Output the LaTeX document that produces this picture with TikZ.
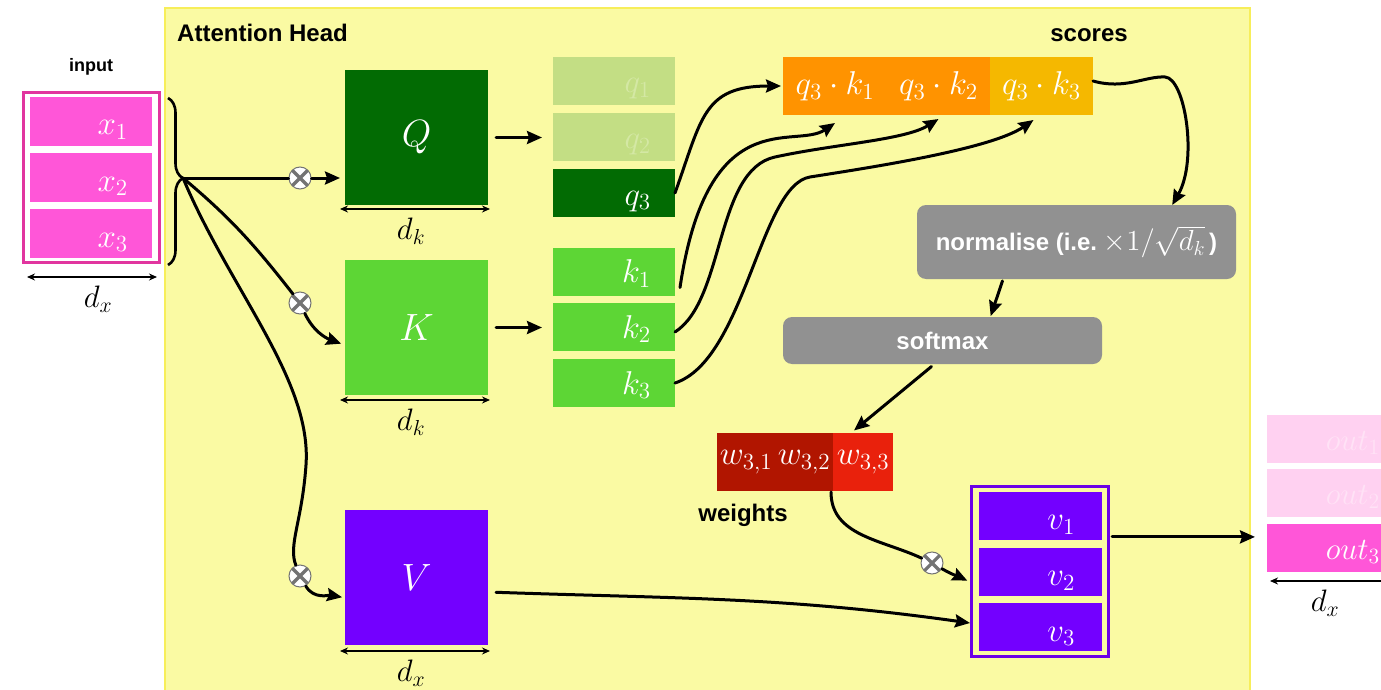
\documentclass[tikz,border=0pt]{standalone}
\usepackage{fontspec}
\setsansfont{Liberation Sans}
\usetikzlibrary{arrows.meta,calc,decorations.pathreplacing}
% scalable Computer Modern math at any size
\DeclareFontShape{OML}{cmm}{m}{it}{<->cmmi12}{}
\DeclareFontShape{OMS}{cmsy}{m}{n}{<->cmsy10}{}
\DeclareFontShape{OT1}{cmr}{m}{n}{<->cmr12}{}
\DeclareFontShape{OMX}{cmex}{m}{n}{<->cmex10}{}

\definecolor{headfill}{HTML}{FAFAA3}
\definecolor{headborder}{HTML}{F7EE5A}
\definecolor{inpink}{HTML}{FF56D8}
\definecolor{inborder}{HTML}{E1359F}
\definecolor{qdark}{HTML}{026B03}
\definecolor{kgreen}{HTML}{5DD635}
\definecolor{qfade}{HTML}{C3DE84}
\definecolor{qfadetxt}{HTML}{D4E8A4}
\definecolor{vpurple}{HTML}{7300FF}
\definecolor{vborder}{HTML}{6B00E6}
\definecolor{scorange}{HTML}{FF9300}
\definecolor{scamber}{HTML}{F5B800}
\definecolor{wdark}{HTML}{B11500}
\definecolor{wred}{HTML}{E9210C}
\definecolor{boxgray}{HTML}{919191}
\definecolor{outfade}{HTML}{FFD1F1}
\definecolor{outfadetxt}{HTML}{FFE2F6}

\begin{document}
\begin{tikzpicture}[x=1pt,y=1pt,
  cellbox/.style={rectangle, inner sep=0pt, outer sep=0pt},
  row/.style={cellbox, minimum width=122pt, minimum height=48pt},
  mlab/.style={text=white, inner sep=0pt, font=\fontsize{33}{36}\selectfont},
  biglab/.style={text=white, font=\fontsize{38}{40}\selectfont},
  dlab/.style={inner sep=0pt, font=\fontsize{31}{34}\selectfont},
  title/.style={inner sep=0pt, font=\sffamily\bfseries\fontsize{24}{28}\selectfont},
  grayb/.style={cellbox, rounded corners=9pt, fill=boxgray, text=white,
    font=\sffamily\bfseries\fontsize{24}{28}\selectfont},
  conn/.style={line width=3pt, line cap=round},
  arr/.style={conn, -{Stealth[length=15pt,width=13pt,inset=2pt]}},
  dim/.style={line width=1.5pt, {Stealth[length=8pt,width=7pt]}-{Stealth[length=8pt,width=7pt]}},
  mult/.style={circle, draw=black!55, line width=1pt, fill=white,
    minimum size=22pt, inner sep=0pt,
    path picture={\draw[line width=3.2pt]
      (path picture bounding box.north west) -- (path picture bounding box.south east)
      (path picture bounding box.north east) -- (path picture bounding box.south west);}}
]
\useasboundingbox (0,0) rectangle (1381,-690);
\fill[white] (0,0) rectangle (1381,-690);

% attention head panel
\draw[draw=headborder, line width=2.5pt, fill=headfill] (165,-8) rectangle (1250,-700);
\node[title, anchor=west] (headt) at (177,-33) {Attention Head};

% input rows
\node[title, font=\sffamily\bfseries\fontsize{18}{22}\selectfont] (inputt) at (91,-67) {input};
\node[cellbox, draw=inborder, line width=3pt, fill=white, minimum width=136pt, minimum height=170pt, outer sep=1.5pt] (inbox) at (91.5,-177.5) {};
\node[cellbox, fill=inpink, minimum width=122pt, minimum height=49pt] (x1) at (91,-121.5) {};
\node[cellbox, fill=inpink, minimum width=122pt, minimum height=49pt] (x2) at (91,-177.5) {};
\node[cellbox, fill=inpink, minimum width=122pt, minimum height=49pt] (x3) at (91,-233.5) {};
\node[mlab, anchor=base east] (x1l) at ($(x1.south east)+(-24,11)$) {$x_1$};
\node[mlab, anchor=base east] (x2l) at ($(x2.south east)+(-24,11)$) {$x_2$};
\node[mlab, anchor=base east] (x3l) at ($(x3.south east)+(-24,11)$) {$x_3$};
\draw[dim] ([xshift=5pt,yshift=-13pt]inbox.south west) -- ([xshift=-4pt,yshift=-13pt]inbox.south east);
\node[dlab] (dxin) at (98,-299) {$d_x$};

% brace gathering the inputs
\draw[line width=2.6pt, decorate, decoration={brace, amplitude=15pt, aspect=0.48}] (168,-98) -- (168,-265);
\coordinate (src) at (183,-178);

% projection matrices
\node[cellbox, fill=qdark, minimum width=143pt, minimum height=135pt] (Q) at (416.5,-137.5) {};
\node[biglab] (Ql) at (Q) {$Q$};
\node[cellbox, fill=kgreen, minimum width=143pt, minimum height=135pt] (K) at (416.5,-327.5) {};
\node[biglab] (Kl) at (K) {$K$};
\node[cellbox, fill=vpurple, minimum width=143pt, minimum height=135pt] (V) at (416.5,-577.5) {};
\node[biglab] (Vl) at (V) {$V$};
\draw[dim] ([xshift=-5pt,yshift=-4pt]Q.south west) -- ([xshift=2pt,yshift=-4pt]Q.south east);
\draw[dim] ([xshift=-5pt,yshift=-5pt]K.south west) -- ([xshift=2pt,yshift=-5pt]K.south east);
\draw[dim] ([xshift=-5pt,yshift=-6pt]V.south west) -- ([xshift=2pt,yshift=-6pt]V.south east);
\node[dlab] (dkq) at (411,-231) {$d_k$};
\node[dlab] (dkk) at (411,-422) {$d_k$};
\node[dlab] (dxv) at (411,-673) {$d_x$};

% multiplications
\node[mult] (m1) at (300,-178) {};
\node[mult] (m2) at (300,-303) {};
\node[mult] (m3) at (300,-576) {};
\node[mult] (m4) at (932,-563) {};

% queries and keys
\node[row, fill=qfade] (q1) at (614,-81) {};
\node[row, fill=qfade] (q2) at (614,-137) {};
\node[row, fill=qdark] (q3) at (614,-193) {};
\node[mlab, text=qfadetxt, anchor=base east] (q1l) at ($(q1.south east)+(-24,12)$) {$q_1$};
\node[mlab, text=qfadetxt, anchor=base east] (q2l) at ($(q2.south east)+(-24,12)$) {$q_2$};
\node[mlab, anchor=base east] (q3l) at ($(q3.south east)+(-24,12)$) {$q_3$};
\node[row, fill=kgreen] (k1) at (614,-271.5) {};
\node[row, fill=kgreen] (k2) at (614,-327) {};
\node[row, fill=kgreen] (k3) at (614,-383) {};
\node[mlab, anchor=base east] (k1l) at ($(k1.south east)+(-24,13)$) {$k_1$};
\node[mlab, anchor=base east] (k2l) at ($(k2.south east)+(-24,13)$) {$k_2$};
\node[mlab, anchor=base east] (k3l) at ($(k3.south east)+(-24,13)$) {$k_3$};

% scores
\node[title] (scorest) at (1089,-35) {scores};
\node[cellbox, fill=scorange, minimum width=104pt, minimum height=58pt, text=white, font=\fontsize{33}{36}\selectfont] (sc1) at (835,-86) {$q_3\cdot k_1$};
\node[cellbox, fill=scorange, minimum width=103pt, minimum height=58pt, text=white, font=\fontsize{33}{36}\selectfont] (sc2) at (938.5,-86) {$q_3\cdot k_2$};
\node[cellbox, fill=scamber, minimum width=103pt, minimum height=58pt, text=white, font=\fontsize{33}{36}\selectfont] (sc3) at (1041.5,-86) {$q_3\cdot k_3$};

% normalisation and softmax
\node[grayb, minimum width=319pt, minimum height=74pt] (norm) at (1076.5,-242) {normalise (i.e.\ {\mdseries\fontsize{29}{30}\selectfont$\times 1/\sqrt{d_k}$}\,)};
\node[grayb, minimum width=319pt, minimum height=47pt] (soft) at (942.5,-340.5) {softmax};

% weights
\node[cellbox, fill=wdark, minimum width=58pt, minimum height=58pt, text=white, font=\fontsize{33}{36}\selectfont] (w31) at (746,-462) {$w_{3,1}$};
\node[cellbox, fill=wdark, minimum width=58pt, minimum height=58pt, text=white, font=\fontsize{33}{36}\selectfont] (w32) at (804,-462) {$w_{3,2}$};
\node[cellbox, fill=wred, minimum width=60pt, minimum height=58pt, text=white, font=\fontsize{33}{36}\selectfont] (w33) at (863,-462) {$w_{3,3}$};
\node[title] (weightst) at (743,-515) {weights};

% values
\node[cellbox, draw=vborder, line width=3pt, minimum width=137pt, minimum height=170pt, outer sep=1.5pt] (vs) at (1040,-571.5) {};
\node[cellbox, fill=vpurple, minimum width=123pt, minimum height=48pt] (v1) at (1040.5,-515.5) {};
\node[cellbox, fill=vpurple, minimum width=123pt, minimum height=48pt] (v2) at (1040.5,-571.5) {};
\node[cellbox, fill=vpurple, minimum width=123pt, minimum height=48pt] (v3) at (1040.5,-627) {};
\node[mlab, anchor=base east] (v1l) at ($(v1.south east)+(-27,10)$) {$v_1$};
\node[mlab, anchor=base east] (v2l) at ($(v2.south east)+(-27,10)$) {$v_2$};
\node[mlab, anchor=base east] (v3l) at ($(v3.south east)+(-27,10)$) {$v_3$};

% outputs
\node[cellbox, fill=outfade, minimum width=133pt, minimum height=48pt] (out1) at (1333.5,-439) {};
\node[cellbox, fill=outfade, minimum width=133pt, minimum height=48pt] (out2) at (1333.5,-493) {};
\node[cellbox, fill=inpink, minimum width=133pt, minimum height=48pt] (out3) at (1333.5,-548) {};
\node[mlab, text=outfadetxt, font=\fontsize{31}{34}\selectfont, anchor=base east] (o1l) at ($(out1.south east)+(-20,13)$) {$out_1$};
\node[mlab, text=outfadetxt, font=\fontsize{31}{34}\selectfont, anchor=base east] (o2l) at ($(out2.south east)+(-20,13)$) {$out_2$};
\node[mlab, font=\fontsize{31}{34}\selectfont, anchor=base east] (o3l) at ($(out3.south east)+(-20,13)$) {$out_3$};
\draw[dim] ([xshift=3pt,yshift=-9pt]out3.south west) -- ([xshift=-3pt,yshift=-9pt]out3.south east);
\node[dlab] (dxout) at (1325,-603) {$d_x$};

% connectors: input to the projections
\draw[conn] (src) -- (m1);
\draw[arr, shorten >=5pt] (m1) -- (m1 -| Q.west);
\draw[conn] (src) to[out=-40,in=128] (m2);
\draw[arr, shorten >=4pt] (m2) to[out=-65,in=160] ($(K.north west)!0.63!(K.south west)$);
\draw[conn] (src) .. controls (230,-290) and (312,-380) .. (306,-465)
                  .. controls (302,-522) and (288,-545) .. (m3);
\draw[arr, shorten >=3pt] (m3) to[out=-60,in=170] ($(V.north west)!0.65!(V.south west)$);

% projections to rows
\draw[arr, shorten <=8pt, shorten >=11pt] (Q.east) -- (Q.east -| q2.west);
\draw[arr, shorten <=8pt, shorten >=11pt] (K.east) -- (K.east -| k2.west);

% dot products
\draw[arr] (q3.east) .. controls (702,-118) and (703,-86) .. ([xshift=-2pt]sc1.west);
\draw[arr] ([xshift=5pt,yshift=8pt]k1.south east) .. controls (708,-100) and (795,-150) .. ([yshift=-8pt]sc1.south);
\draw[arr] ([yshift=-5pt]k2.east) .. controls (725,-300) and (715,-170) .. (775,-157)
           .. controls (835,-144) and (905,-140) .. ([yshift=-4pt]sc2.south);
\draw[arr] (k3.east) .. controls (745,-360) and (760,-185) .. (810,-177)
           .. controls (860,-169) and (990,-150) .. ([xshift=-8pt,yshift=-5pt]sc3.south);

% scores to weights
\draw[arr] ([yshift=5pt]sc3.east) .. controls (1125,-90) and (1145,-76) .. (1165,-77)
           .. controls (1185,-78) and (1198,-160) .. ($(norm.north west)!0.8!(norm.north east)$);
\draw[arr, shorten <=2pt, shorten >=1pt] ($(norm.south west)!0.27!(norm.south east)$) -- ($(soft.north west)!0.65!(soft.north east)$);
\draw[arr, shorten <=4pt, shorten >=4pt] ($(soft.south west)!0.475!(soft.south east)$) -- ($(w33.north west)!0.3!(w33.north east)$);

% weighted sum of values
\draw[conn] ([xshift=-2pt,yshift=-1pt]w33.south west) to[out=-90,in=155] (m4);
\draw[arr, shorten >=3pt] (m4) to[out=-30,in=155] ($(vs.north west)!0.56!(vs.south west)$);
\draw[arr, shorten <=8pt] ([yshift=-14.5pt]V.east) to[out=-2,in=172] ($(vs.west |- v3.west)+(0,4)$);
\coordinate (vsout) at ($(vs.north east)!0.3!(vs.south east)$);
\draw[arr, shorten <=2pt, shorten >=12pt] (vsout) -- (vsout -| out3.west);
\end{tikzpicture}
\end{document}
